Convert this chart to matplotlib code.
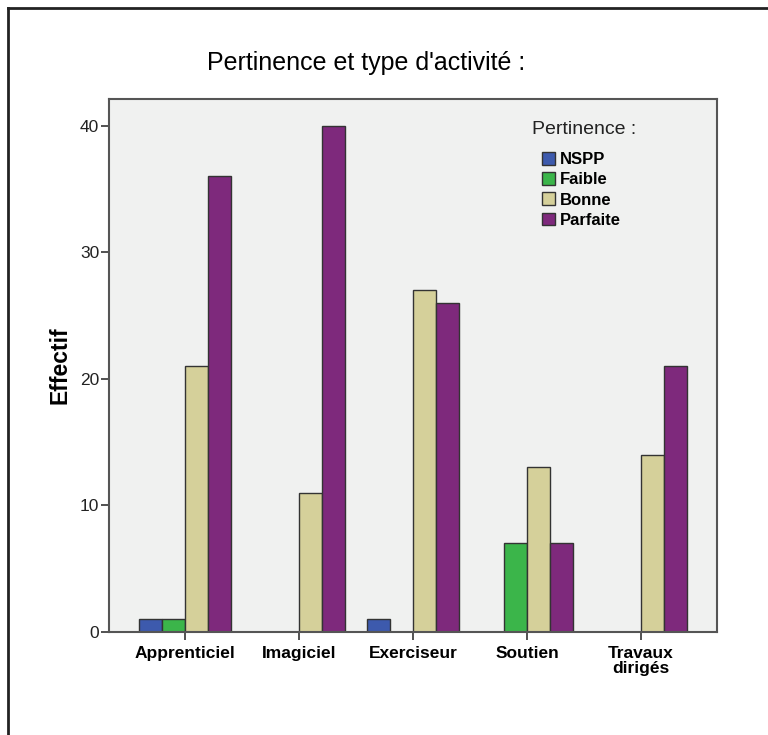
import matplotlib
matplotlib.use('Agg')
import matplotlib.pyplot as plt
import numpy as np
from matplotlib.lines import Line2D

plt.rcParams['font.family'] = ['Liberation Sans', 'DejaVu Sans']

categories = ['Apprenticiel', 'Imagiciel', 'Exerciseur', 'Soutien', 'Travaux\ndirigés']
series_names = ['NSPP', 'Faible', 'Bonne', 'Parfaite']
nspp = [1, 0, 1, 0, 0]
faible = [1, 0, 0, 7, 0]
bonne = [21, 11, 27, 13, 14]
parfaite = [36, 40, 26, 7, 21]
colors = ['#3d5aad', '#3bb54a', '#d5d09a', '#7e297c']

fig = plt.figure(figsize=(7.68, 7.35), dpi=100)
ax = fig.add_axes([109/768, 1 - 632/735, 608/768, 533/735])
ax.set_facecolor('#f0f1f0')

x = np.arange(len(categories))
w = 0.2
offsets = [-1.5, -0.5, 0.5, 1.5]
for vals, off, col, name in zip([nspp, faible, bonne, parfaite], offsets, colors, series_names):
    ax.bar(x + off * w, vals, w, color=col, edgecolor='#333333', linewidth=1, label=name)

ax.set_xlim(-0.667, 4.667)
ax.set_ylim(0, 42.1)
ax.set_yticks([0, 10, 20, 30, 40])
ax.set_xticks(x)
ax.set_xticklabels(categories, fontsize=12.5, fontweight='bold', linespacing=1.0)
ax.tick_params(axis='y', labelsize=12.5, length=6, width=1.2, color='#333333', pad=1,
               labelcolor='#222222')
ax.tick_params(axis='x', length=6, width=1.2, color='#333333', pad=4)
for s in ax.spines.values():
    s.set_color('#555555')
    s.set_linewidth(1.5)

ax.set_ylabel('Effectif', fontsize=16.5, fontweight='bold', labelpad=6)

fig.text(366/768, 1 - 63/735, "Pertinence et type d'activité :", fontsize=18,
         ha='center', va='center')

ax.text((532 - 109)/608, (632 - 130)/533, 'Pertinence :', transform=ax.transAxes,
        fontsize=14, ha='left', va='center', color='#222222')
leg = ax.legend(loc='upper left', bbox_to_anchor=((542 - 109)/608, (632 - 152)/533),
                frameon=False, borderpad=0, borderaxespad=0, handlelength=0.8,
                handleheight=0.8, handletextpad=0.25, labelspacing=0.3,
                prop={'weight': 'bold', 'size': 12})

# outer frame
fig.add_artist(Line2D([8/768, 8/768], [0, 1 - 8/735], color='#222222', linewidth=2))
fig.add_artist(Line2D([8/768, 1], [1 - 8/735, 1 - 8/735], color='#222222', linewidth=2))

fig.savefig('out.png', dpi=100)
